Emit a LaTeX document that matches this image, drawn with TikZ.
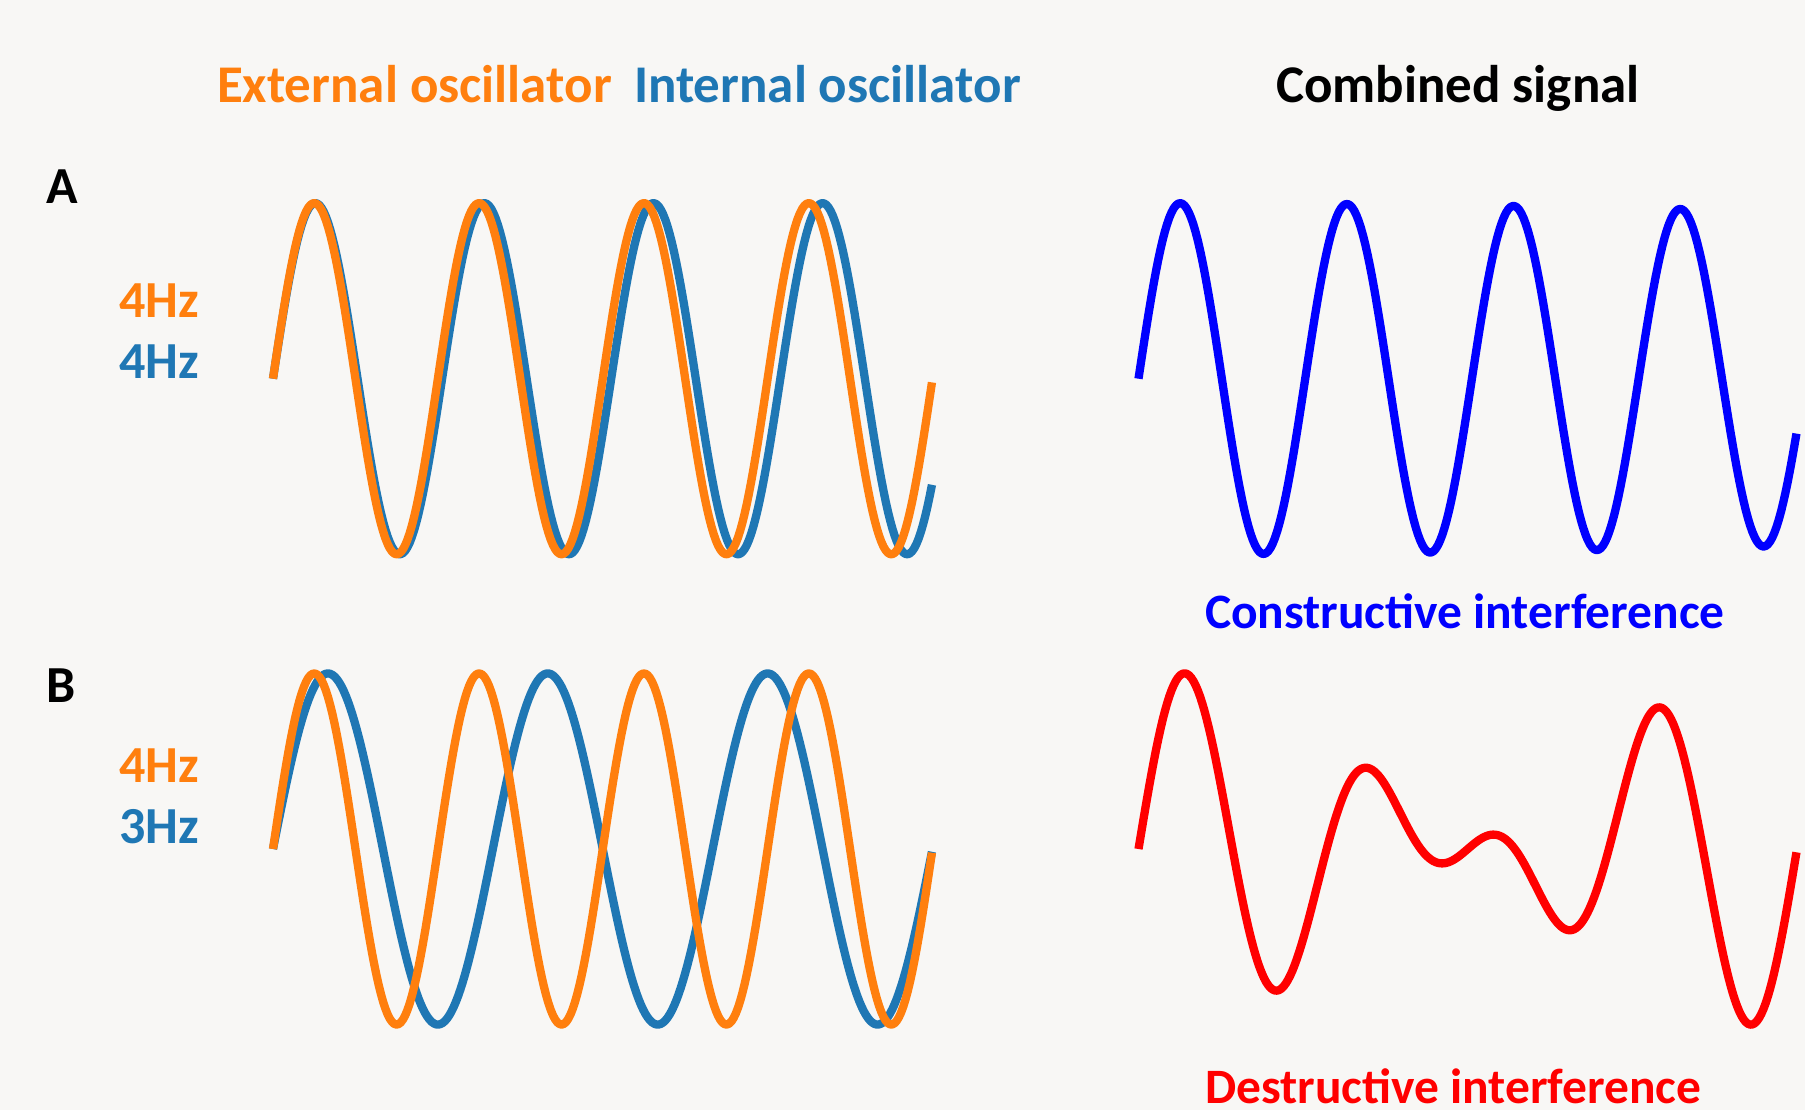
\documentclass[tikz,border=0pt]{standalone}
\usepackage{fontspec}
\setmainfont{Carlito}
\definecolor{bgc}{HTML}{F8F7F5}
\definecolor{extc}{HTML}{FF7F0E}
\definecolor{intc}{HTML}{1F77B4}
\definecolor{consc}{HTML}{0000FF}
\definecolor{destc}{HTML}{FF0000}
\tikzset{
  lbl/.style={anchor=base west, inner sep=0pt, outer sep=0pt, font=\fontsize{52}{62}\selectfont\bfseries},
  ttl/.style={lbl, font=\fontsize{53}{63}\selectfont\bfseries},
  itf/.style={lbl, font=\fontsize{49.5}{60}\selectfont\bfseries},
  wave/.style={line width=8.3pt, line join=round},
}
\begin{document}
\begin{tikzpicture}[x=1pt, y=-1pt]
\fill[bgc] (0,0) rectangle (1805,1110);
\useasboundingbox (0,0) rectangle (1805,1110);
% labels
\node[ttl, text=extc] (ext) at (217,103) {External oscillator};
\node[ttl, text=intc] (int) at (634,103) {Internal oscillator};
\node[ttl, text=black] (comb) at (1276,103) {Combined signal};
\node[lbl, text=black] (la) at (46,204) {A};
\node[lbl, text=black] (lb) at (46,702) {B};
\node[lbl, text=extc] (fa1) at (119,317) {4Hz};
\node[lbl, text=intc] (fa2) at (119,378) {4Hz};
\node[lbl, text=extc] (fb1) at (119,782) {4Hz};
\node[lbl, text=intc] (fb2) at (119,843) {3Hz};
\node[itf, text=consc] (cons) at (1205,628) {Constructive interference};
\node[itf, text=destc, text depth=0pt] (dest) at (1205,1103) {Destructive interference};
% panel A
\draw[wave, intc] plot[domain=0:1, samples=300, variable=\t] ({273+659.5*\t}, {378.7-175.6*sin(360*3.9*\t)});
\draw[wave, extc] plot[domain=0:1, samples=300, variable=\t] ({273+659.5*\t}, {378.7-175.6*sin(360*4*\t)});
\draw[wave, consc] plot[domain=0:1, samples=300, variable=\t] ({1138.5+658.5*\t}, {378.7-175.6*(sin(360*4*\t)+sin(360*3.9*\t))/2});
% panel B
\draw[wave, intc] plot[domain=0:1, samples=300, variable=\t] ({273+659.5*\t}, {849-175.6*sin(360*3*\t)});
\draw[wave, extc] plot[domain=0:1, samples=300, variable=\t] ({273+659.5*\t}, {849-175.6*sin(360*4*\t)});
\draw[wave, destc] plot[domain=0:1, samples=300, variable=\t] ({1138.5+658.5*\t}, {849-175.6*(sin(360*4*\t)+sin(360*3*\t))/1.95});
\end{tikzpicture}
\end{document}
